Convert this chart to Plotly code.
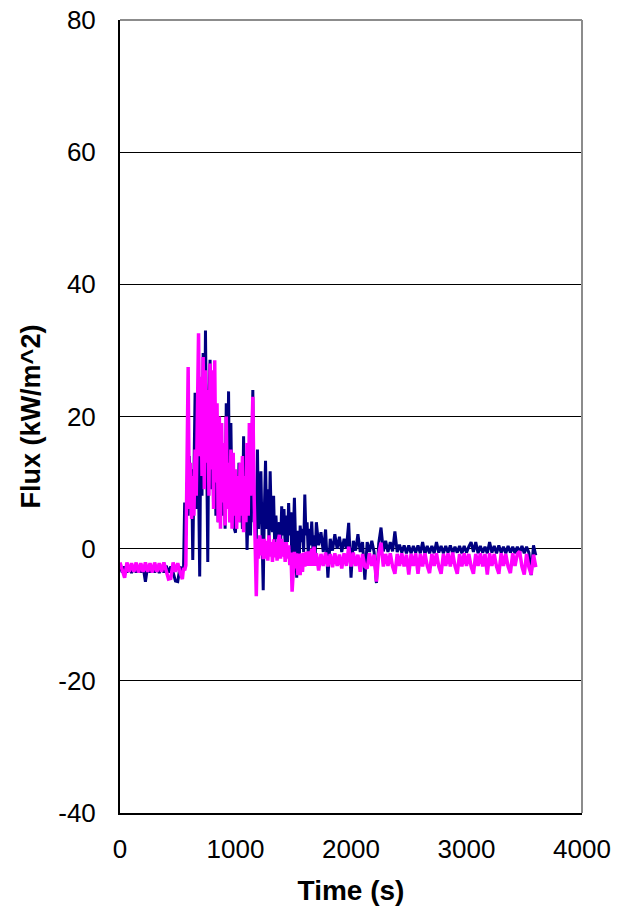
import plotly.graph_objects as go

# Time (s) sample points
time_s = [
    0, 20, 40, 60, 80, 100, 120, 140, 160, 180,
    200, 220, 240, 260, 280, 300, 320, 340, 360, 380,
    400, 420, 440, 460, 480, 500, 520, 540,
    550, 560, 570, 580, 590, 600, 610, 620, 630, 640,
    650, 660, 670, 680, 690, 700, 710, 720, 730, 740,
    750, 760, 770, 780, 790, 800, 810, 820, 830, 840,
    850, 860, 870, 880, 890, 900, 910, 920, 930, 940,
    950, 960, 970, 980, 990, 1000, 1010, 1020, 1030, 1040,
    1050, 1060, 1070, 1080, 1090, 1100, 1110, 1120, 1130, 1140,
    1150, 1160, 1170, 1180, 1190, 1200, 1210, 1220, 1230, 1240,
    1250, 1260, 1270, 1280, 1290, 1300, 1310, 1320, 1330, 1340,
    1350, 1360, 1370, 1380, 1390, 1400, 1410, 1420, 1430, 1440,
    1450, 1460, 1470, 1480, 1490, 1500, 1510, 1520, 1530, 1540,
    1550, 1560, 1570, 1580, 1590, 1600, 1610, 1620, 1630, 1640,
    1650, 1660, 1670, 1680, 1690, 1700,
    1720, 1740, 1760, 1780, 1800, 1820, 1840, 1860, 1880, 1900,
    1920, 1940, 1960, 1980, 2000, 2020, 2040, 2060, 2080, 2100,
    2120, 2140, 2160, 2180, 2200, 2220, 2240, 2260, 2280, 2300,
    2320, 2340, 2360, 2380, 2400, 2420, 2440, 2460, 2480, 2500,
    2520, 2540, 2560, 2580, 2600, 2620, 2640, 2660, 2680, 2700,
    2720, 2740, 2760, 2780, 2800, 2820, 2840, 2860, 2880, 2900,
    2920, 2940, 2960, 2980, 3000, 3020, 3040, 3060, 3080, 3100,
    3120, 3140, 3160, 3180, 3200, 3220, 3240, 3260, 3280, 3300,
    3320, 3340, 3360, 3380, 3400, 3420, 3440, 3460, 3480, 3500,
    3520, 3540, 3560, 3580, 3600,
]

# Flux (kW/m^2), navy series
flux_navy = [
    -2.6, -3.6, -2.7, -3.6, -2.6, -3.7, -2.7, -3.6, -2.6, -3.6,
    -2.7, -5.0, -2.6, -3.6, -2.7, -3.6, -2.6, -3.7, -2.7, -3.6,
    -2.6, -3.6, -2.7, -3.6, -4.9, -5.0, -2.7, -3.6,
    # 550 - 640
    -3.0, 7.0, 2.0, 10.0, 5.0, 14.0, 8.0, 12.0, -1.7, 16.0,
    # 650 - 740
    23.6, 6.0, 20.0, 10.0, -4.2, 19.0, 8.0, 29.6, 12.0, 33.0,
    # 750 - 840
    15.0, -2.0, 22.0, 28.6, 9.0, 21.0, 6.0, 17.0, 5.0, 15.0,
    # 850 - 940
    4.0, 18.0, 7.0, 12.0, 5.0, 14.0, 3.0, 22.0, 8.0, 23.8,
    # 950 - 1040
    4.0, 19.0, 6.0, 12.0, 3.0, 2.4, 10.0, 5.0, 13.0, 4.0,
    # 1050 - 1140
    9.0, 3.0, 17.0, 5.0, 8.0, -0.2, 6.0, 10.0, 2.0, 12.0,
    # 1150 - 1240
    24.0, 4.0, 6.0, 1.0, 15.0, 3.0, 8.0, 11.7, 2.0, -6.3,
    # 1250 - 1340
    6.0, 13.3, 3.0, 9.0, 1.0, 11.7, 4.0, 2.5, 8.0, 0.0,
    # 1350 - 1440
    5.0, 1.5, 3.0, 4.0, 0.5, 6.4, 2.0, 6.0, 0.0, 5.0,
    # 1450 - 1540
    1.0, 6.9, 2.0, 5.5, -4.7, 3.0, 7.7, 1.0, -4.4, 2.7,
    # 1550 - 1640
    -3.0, 3.5, 1.0, 3.0, -0.5, 8.2, 2.0, 4.0, -1.0, 3.0,
    # 1650 - 1700
    0.5, 4.1, 0.0, 2.0, -1.0, 4.0,
    # 1720 - 1900
    0.5, 2.5, -0.5, 2.9, -4.4, 1.5, -0.3, 2.2, 0.0, 1.8,
    # 1920 - 2100
    -0.5, 1.5, 0.0, 3.9, -4.4, 1.2, -0.3, 2.2, -0.5, 1.0,
    # 2120 - 2300
    -4.7, 1.0, -0.5, 1.2, -0.5, -5.2, 0.8, 3.2, -0.4, 1.2,
    # 2320 - 2500
    -0.5, 1.0, -0.4, 2.6, -0.5, 0.6, -0.6, 0.5, -0.7, 0.5,
    # 2520 - 2700
    -0.7, 0.4, -0.6, 0.5, -0.7, 1.0, -0.8, 0.4, -0.7, 0.4,
    # 2720 - 2900
    -0.7, 1.0, -0.6, 0.4, -0.7, 0.4, -0.6, 0.5, -0.7, 0.3,
    # 2920 - 3100
    -0.6, 0.4, -0.7, 0.4, -0.6, 0.3, 1.0, -0.5, 1.0, -0.7,
    # 3120 - 3300
    0.4, -0.6, 0.3, -0.7, 1.0, -0.6, 0.4, -0.7, 0.5, -0.6,
    # 3320 - 3500
    0.3, -0.7, 0.4, -0.6, 0.3, -0.7, 0.3, -0.6, 0.4, -0.7,
    # 3520 - 3600
    0.3, -0.6, -4.0, 0.5, -1.0,
]

# Flux (kW/m^2), magenta series
flux_magenta = [
    -2.1, -3.5, -4.4, -2.1, -3.5, -2.2, -3.5, -2.1, -3.6, -2.2,
    -3.5, -2.1, -3.5, -2.2, -3.6, -2.1, -3.5, -2.2, -3.5, -2.1,
    -3.6, -4.6, -4.5, -2.1, -3.5, -2.2, -3.6, -4.6,
    # 550 - 640
    -2.9, -3.3, -2.5, 9.0, 27.5, 6.0, 13.0, 4.5, 11.0, 5.0,
    # 650 - 740
    15.0, 8.0, 21.0, 32.6, 14.0, 26.0, 11.0, 29.0, 9.0, 27.0,
    # 750 - 840
    13.0, 24.0, 8.0, 28.0, 12.0, 27.0, 6.0, 28.5, 10.0, 22.0,
    # 850 - 940
    4.0, 20.0, 3.0, 19.0, 7.0, 16.0, 3.5, 20.0, 6.0, 13.0,
    # 950 - 1040
    4.0, 15.0, 3.0, 14.5, 5.0, 12.0, 3.0, 11.0, 4.0, 13.0,
    # 1050 - 1140
    5.0, 14.0, 2.5, 11.0, 4.0, 16.0, 5.0, 19.0, 8.0, 18.0,
    # 1150 - 1240
    23.0, 9.0, 0.5, -7.2, 1.5, -1.5, 2.0, -1.0, 1.5, -1.6,
    # 1250 - 1340
    1.5, -1.5, 1.2, -1.8, 2.0, -1.2, 1.0, -2.0, 1.4, -1.3,
    # 1350 - 1440
    1.0, -1.8, 1.2, 2.1, -1.5, 1.5, -1.2, 1.0, -2.0, 1.0,
    # 1450 - 1540
    -1.5, 0.5, -2.5, -0.6, -6.5, -2.4, -0.5, -3.0, -0.7, -4.0,
    # 1550 - 1640
    -0.8, -4.0, -0.7, -3.5, -0.6, -2.7, -0.5, -2.6, -0.4, -2.6,
    # 1650 - 1700
    -0.6, 0.0, -2.6, 0.3, -2.6, -0.7,
    # 1720 - 1900
    -3.3, -0.8, -2.6, -0.6, -2.7, -0.8, -2.8, -0.7, -2.6, -0.9,
    # 1920 - 2100
    -3.0, -0.7, -2.6, 0.3, -2.7, -0.6, -2.6, -0.9, -3.5, -0.8,
    # 2120 - 2300
    -2.7, -3.0, -0.7, -2.6, -0.9, -5.0, -0.8, 0.9, -2.7, -0.8,
    # 2320 - 2500
    -2.6, -0.7, -2.7, -3.8, -0.8, -2.6, -0.7, -2.7, -0.9, -3.9,
    # 2520 - 2700
    -0.8, -2.6, -0.7, -3.8, -0.8, -2.7, -0.7, -2.6, -3.7, -0.8,
    # 2720 - 2900
    -2.6, -0.7, -2.7, -3.8, -0.8, -2.6, -0.7, -2.7, -0.6, -2.6,
    # 2920 - 3100
    -3.8, -0.8, -2.7, -0.7, -2.6, -0.8, -2.7, -3.8, -0.8, -2.6,
    # 3120 - 3300
    -0.7, -2.7, -0.8, -3.9, -0.7, -2.6, -0.8, -2.7, -3.8, -0.7,
    # 3320 - 3500
    -2.6, -0.8, -2.7, -3.7, -0.7, -2.6, -0.8, -0.4, -2.7, -3.9,
    # 3520 - 3600
    -0.8, -2.8, -3.9, -0.9, -2.8,
]

if not (len(time_s) == len(flux_navy) == len(flux_magenta)):
    raise ValueError(f"lengths: {len(time_s)} {len(flux_navy)} {len(flux_magenta)}")

x_ticks = [0, 1000, 2000, 3000, 4000]
y_ticks = [-40, -20, 0, 20, 40, 60, 80]

FONT = "Arial, 'Liberation Sans', sans-serif"

fig = go.Figure()
fig.add_trace(go.Scatter(x=time_s, y=flux_navy, mode="lines",
                         line=dict(color="#000080", width=3), showlegend=False))
fig.add_trace(go.Scatter(x=time_s, y=flux_magenta, mode="lines",
                         line=dict(color="#FF00FF", width=3.5), showlegend=False))

fig.update_layout(
    width=619, height=909,
    margin=dict(l=120, r=37, t=20, b=96),
    paper_bgcolor="white", plot_bgcolor="white",
    font=dict(family=FONT, color="black", size=26),
    xaxis=dict(
        range=[0, 4000], tickvals=x_ticks, ticktext=[str(v) for v in x_ticks],
        showgrid=False, zeroline=False, automargin=False,
        showline=True, linecolor="#000000", linewidth=2,
        ticks="", ticklabelstandoff=12,
        tickfont=dict(size=26, family=FONT),
        title=dict(text="<b>Time (s)</b>", font=dict(size=28, family=FONT), standoff=17),
    ),
    yaxis=dict(
        range=[-40, 80], tickvals=y_ticks, ticktext=[str(v) for v in y_ticks],
        showgrid=True, gridcolor="#000000", gridwidth=1, automargin=False,
        zeroline=True, zerolinecolor="#000000", zerolinewidth=1,
        showline=True, linecolor="#000000", linewidth=2,
        ticks="", ticklabelstandoff=17,
        tickfont=dict(size=26, family=FONT),
        title=dict(text="<b>Flux (kW/m^2)</b>", font=dict(size=27, family=FONT), standoff=10),
    ),
    shapes=[
        dict(type="line", xref="paper", yref="paper", x0=0, x1=1, y0=1, y1=1,
             line=dict(color="#8c8c8c", width=2)),
        dict(type="line", xref="paper", yref="paper", x0=1, x1=1, y0=0, y1=1,
             line=dict(color="#8c8c8c", width=2)),
    ],
)

fig.write_html(
    "out.html",
    config={"displayModeBar": False},
    post_script="document.body.style.margin='0';document.body.style.overflow='hidden';",
)
